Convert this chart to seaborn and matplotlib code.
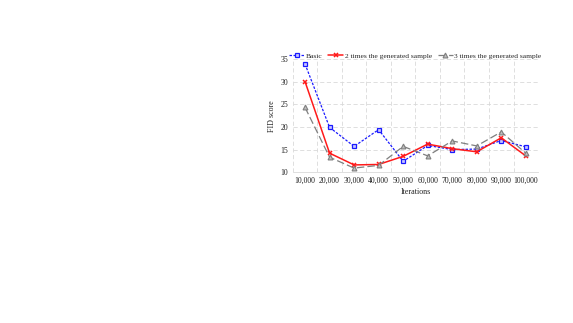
import matplotlib
matplotlib.use("Agg")
import matplotlib.pyplot as plt
import seaborn as sns
import pandas as pd
import numpy as np

iterations = ["10,000", "20,000", "30,000", "40,000", "50,000",
              "60,000", "70,000", "80,000", "90,000", "100,000"]
basic = [33.9, 19.9, 15.7, 19.4, 12.4, 15.9, 15.0, 15.1, 17.0, 15.6]
times2 = [30.0, 14.2, 11.6, 11.7, 13.5, 16.2, 15.2, 14.5, 17.6, 13.6]
times3 = [24.3, 13.3, 10.9, 11.5, 15.7, 13.6, 16.9, 15.8, 18.9, 14.2]
series_names = ["Basic", "2 times the generated sample", "3 times the generated sample"]

df = pd.DataFrame({
    "Iterations": iterations * 3,
    "FID score": basic + times2 + times3,
    "series": [series_names[0]] * 10 + [series_names[1]] * 10 + [series_names[2]] * 10,
})

sns.set_style("white")
plt.rcParams["font.family"] = ["Liberation Serif", "DejaVu Serif"]

fig = plt.figure(figsize=(5.73, 3.23), dpi=100)
ax = fig.add_axes([0.511, 0.467, 0.428, 0.35])

styles = {
    series_names[0]: dict(color="#1a1aff", linestyle=(0, (2, 1.2)), marker="s", lw=0.9,
                          markerfacecolor="#c8c8ff", markeredgecolor="#1a1aff", ms=3.2, mew=0.9),
    series_names[1]: dict(color="#ff1a1a", linestyle="-", marker="x", lw=1.1,
                          markerfacecolor="#ff1a1a", markeredgecolor="#ff1a1a", ms=3.5, mew=1.1),
    series_names[2]: dict(color="#7f7f7f", linestyle=(0, (6, 2.5)), marker="^", lw=0.9,
                          markerfacecolor="#bfbfbf", markeredgecolor="#7f7f7f", ms=3.5, mew=0.8),
}

for name in series_names:
    sub = df[df["series"] == name]
    st = styles[name]
    sns.lineplot(data=sub, x="Iterations", y="FID score", ax=ax, label=name,
                 color=st["color"], linestyle=st["linestyle"], linewidth=st["lw"],
                 marker=st["marker"], markersize=st["ms"], markeredgewidth=st["mew"],
                 markerfacecolor=st["markerfacecolor"], markeredgecolor=st["markeredgecolor"])

ax.set_xlim(-0.5, len(iterations) - 0.5)
ax.set_ylim(10, 35)
ax.set_yticks([10, 15, 20, 25, 30, 35])
ax.set_xticks(np.arange(-0.5, len(iterations), 1.0), minor=True)
ax.grid(False)
ax.grid(True, which="minor", axis="x", color="#d9d9d9", linestyle=(0, (5, 3)), linewidth=0.6)
ax.grid(True, which="major", axis="y", color="#d9d9d9", linestyle=(0, (5, 3)), linewidth=0.6)
ax.tick_params(axis="both", which="both", length=0, labelsize=5.6, pad=3.5, colors="#222222")
for s in ["top", "right", "left"]:
    ax.spines[s].set_visible(False)
ax.spines["bottom"].set_color("#d9d9d9")
ax.spines["bottom"].set_linewidth(0.6)

ax.set_xlabel("Iterations", fontsize=5.8, labelpad=2.5, color="#222222")
ax.set_ylabel("FID score", fontsize=5.8, labelpad=3, color="#222222")

ax.legend(loc="center", bbox_to_anchor=(0.5, 1.03), ncol=3, frameon=False,
          fontsize=5.4, handlelength=2.0, columnspacing=0.8, handletextpad=0.2,
          borderaxespad=0, borderpad=0)

fig.savefig("out.png", dpi=100)
